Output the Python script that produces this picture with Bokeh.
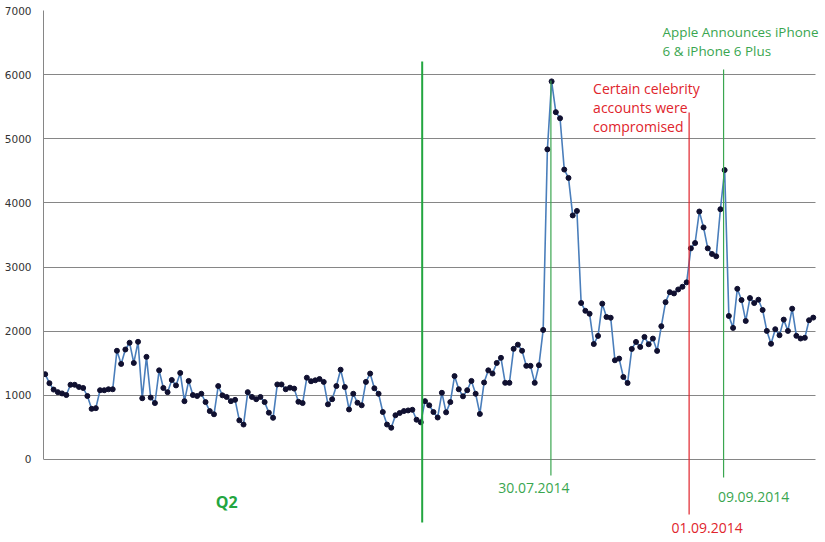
import pandas as pd
from bokeh.plotting import figure
from bokeh.models import Range1d, FixedTicker
from bokeh.core.properties import value
from bokeh.embed import file_html
from bokeh.resources import INLINE

# ---------------- data ----------------
start_date = "2014-04-01"
values = [
    1330, 1190, 1090, 1050, 1030, 1005, 1165, 1165, 1130, 1115,
    990, 790, 800, 1080, 1080, 1095, 1095, 1695, 1490, 1715,
    1820, 1505, 1835, 955, 1600, 965, 880, 1390, 1115, 1050, 1240,
    1155, 1350, 910, 1225, 1005, 990, 1025, 895, 755, 705,
    1145, 1000, 975, 910, 930, 610, 545, 1050, 975, 940,
    975, 895, 730, 650, 1170, 1170, 1095, 1120, 1105, 900,
    880, 1275, 1220, 1235, 1255, 1210, 860, 940, 1145, 1400,
    1130, 780, 1025, 885, 845, 1210, 1340, 1110, 1025, 740,
    545, 495, 690, 725, 755, 765, 775, 620, 580,
    910, 845, 740, 655, 1040, 735, 895, 1300, 1095, 985,
    1080, 1225, 1025, 710, 1200, 1390, 1340, 1505, 1585, 1195,
    1195, 1725, 1790, 1695, 1460, 1460, 1195, 1470, 2020,
    4835, 5895, 5415, 5320, 4520, 4390, 3805, 3875, 2440, 2318,
    2272, 1800, 1927, 2430, 2222, 2210,
    1547, 1573, 1286, 1193, 1724, 1833, 1755, 1911, 1797, 1885,
    1693, 2078, 2453, 2609, 2589, 2651, 2693, 2762,
    3292, 3375, 3866, 3618, 3292, 3204, 3168, 3902, 4512, 2238,
    2052, 2661, 2486, 2160, 2517, 2439, 2491, 2331, 2005, 1804,
    2031, 1938, 2181, 2005, 2351, 1928, 1886, 1897, 2171, 2212,
]
dates = pd.date_range(start_date, periods=len(values), freq="D")

y_ticks = [0, 1000, 2000, 3000, 4000, 5000, 6000, 7000]

q2_boundary = pd.Timestamp("2014-06-29 08:00")
q2_label_date = pd.Timestamp("2014-05-14")
q2_label = "Q2"

event_dates = [pd.Timestamp("2014-07-29 20:00"), pd.Timestamp("2014-08-31 14:00"),
               pd.Timestamp("2014-09-08 18:00")]
event_labels = ["30.07.2014", "01.09.2014", "09.09.2014"]
celebrity_note = ["Certain celebrity", "accounts were", "compromised"]
apple_note = ["Apple Announces iPhone", "6 & iPhone 6 Plus"]

GREEN = "#3aa650"
GREEN_Q = "#23a640"
RED = "#e0242c"
GRID = "#868686"

x_start = dates[0] - pd.Timedelta(hours=9.6)
grid_end = dates[-1] + pd.Timedelta(hours=13)
x_end = dates[0] + pd.Timedelta(days=184.9)

p = figure(width=825, height=542, x_axis_type="datetime", x_axis_location=None,
           output_backend="svg", toolbar_location=None,
           x_range=Range1d(x_start, x_end),
           y_range=Range1d(-1294, 7000),
           min_border_left=43, min_border_right=0, min_border_top=10, min_border_bottom=0)
p.outline_line_color = None
p.background_fill_color = "white"
p.border_fill_color = "white"
p.xgrid.grid_line_color = None

p.yaxis.ticker = FixedTicker(ticks=y_ticks)
p.ygrid.ticker = FixedTicker(ticks=y_ticks)
p.yaxis.bounds = (0, 7000)
p.yaxis.axis_line_color = GRID
p.yaxis.major_tick_line_color = None
p.yaxis.minor_tick_line_color = None
p.yaxis.major_tick_out = 0
p.yaxis.major_tick_in = 0
p.yaxis.major_label_standoff = 12
p.yaxis.major_label_text_font = "DejaVu Sans"
p.yaxis.major_label_text_font_size = "10.5px"
p.yaxis.major_label_text_color = "#333333"
p.ygrid.grid_line_color = GRID
p.ygrid.grid_line_width = 1
p.ygrid.cross_bounds = (x_start.timestamp() * 1000, grid_end.timestamp() * 1000)

# series
p.line(dates, values, line_color="#4a7ebb", line_width=1.6)
p.scatter(dates, values, size=5, fill_color="#101030", line_color="#101030")

# Q2 boundary
p.segment(x0=[q2_boundary], y0=[-982], x1=[q2_boundary], y1=[6205],
          line_color=GREEN_Q, line_width=2)
p.text(x=[q2_label_date], y=[-655], text=[q2_label], text_font=value("Open Sans"),
       text_font_size="16px", text_font_style="bold", text_color=GREEN_Q,
       text_align="center", text_baseline="middle")

# event lines
p.segment(x0=[event_dates[0]], y0=[-249], x1=[event_dates[0]], y1=[5909],
          line_color=GREEN, line_width=1.2)
p.segment(x0=[event_dates[1]], y0=[-857], x1=[event_dates[1]], y1=[5410],
          line_color=RED, line_width=1.2)
p.segment(x0=[event_dates[2]], y0=[-281], x1=[event_dates[2]], y1=[6080],
          line_color=GREEN, line_width=1.2)

font = value("Open Sans")
p.text(x=[event_dates[0]], y=[-441], text=[event_labels[0]], text_font=font,
       text_font_size="14px", text_color=GREEN, text_align="center",
       text_baseline="middle", x_offset=-17)
p.text(x=[event_dates[1]], y=[-1071], text=[event_labels[1]], text_font=font,
       text_font_size="14px", text_color=RED, text_align="center",
       text_baseline="middle", x_offset=18)
p.text(x=[event_dates[2]], y=[-577], text=[event_labels[2]], text_font=font,
       text_font_size="14px", text_color=GREEN, text_align="center",
       text_baseline="middle", x_offset=30)

p.text(x=[event_dates[1]] * 3, y=[5789, 5488, 5197], text=celebrity_note, text_font=font,
       text_font_size="14px", text_color=RED, text_align="left",
       text_baseline="middle", x_offset=-96)
p.text(x=[event_dates[2]] * 2, y=[6662, 6366], text=apple_note, text_font=font,
       text_font_size="13.4px", text_color=GREEN, text_align="left",
       text_baseline="middle", x_offset=-61)

open("out.html", "w").write(file_html(p, INLINE))
